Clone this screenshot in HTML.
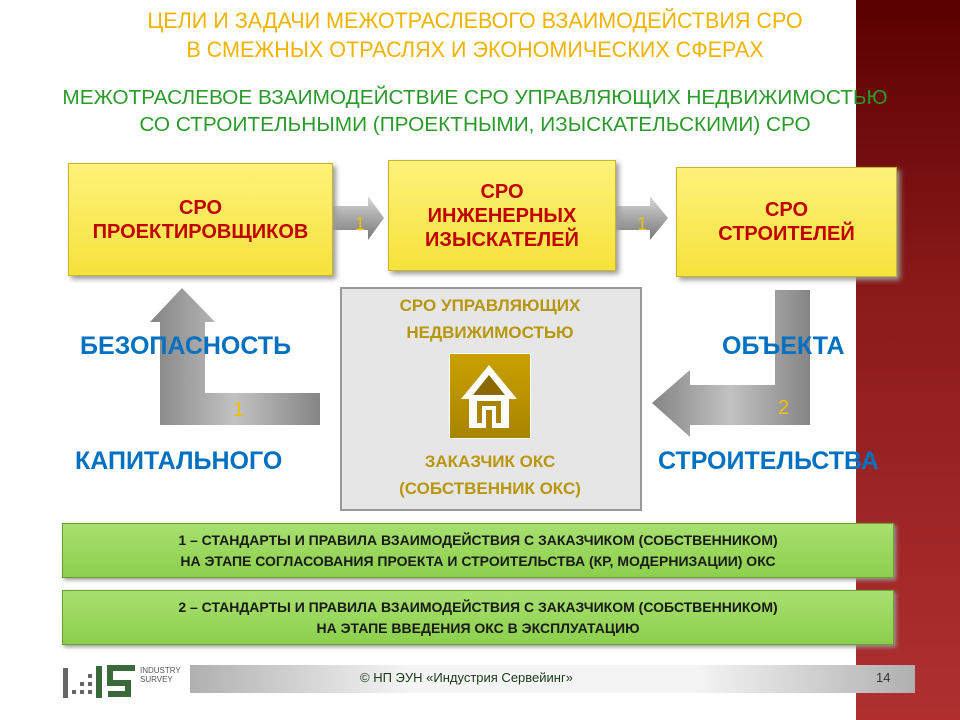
<!DOCTYPE html>
<html><head><meta charset="utf-8"><style>
body{margin:0;width:960px;height:720px;position:relative;overflow:hidden;background:#fff;font-family:"Liberation Sans",sans-serif}
.a{position:absolute}
.t{text-align:center}
.yb{position:absolute;background:linear-gradient(#fdf27a,#f6e23c);border:1px solid #c9b52a;box-shadow:3px 3px 5px #999;display:flex;align-items:center;justify-content:center;text-align:center;color:#c00000;font-weight:bold;font-size:20px;line-height:24px}
.gb{position:absolute;background:linear-gradient(#a8e070,#8ccf4c);border:1px solid #6aa030;box-shadow:2px 2px 4px #999;text-align:center;font-weight:bold;font-size:14px;line-height:21px;color:#1a1a1a}
.bl{position:absolute;color:#0070c0;font-weight:bold;font-size:25px}
</style></head><body>
<div class="a" style="left:856px;top:0;width:104px;height:720px;background:linear-gradient(#5a0000,#8a1a1a 40%,#b03030)"></div>
<div class="a t" style="left:0px;top:6px;width:950px;color:#f0b400;font-size:22px;line-height:29px;transform:scaleX(0.98);transform-origin:475px 0">ЦЕЛИ И ЗАДАЧИ МЕЖОТРАСЛЕВОГО ВЗАИМОДЕЙСТВИЯ СРО<br>В СМЕЖНЫХ ОТРАСЛЯХ И ЭКОНОМИЧЕСКИХ СФЕРАХ</div>
<div class="a t" style="left:0px;top:85px;width:950px;color:#2a9a2a;font-size:20px;line-height:27px;transform:scaleX(1.04);transform-origin:475px 0">МЕЖОТРАСЛЕВОЕ ВЗАИМОДЕЙСТВИЕ СРО УПРАВЛЯЮЩИХ НЕДВИЖИМОСТЬЮ<br>СО СТРОИТЕЛЬНЫМИ (ПРОЕКТНЫМИ, ИЗЫСКАТЕЛЬСКИМИ) СРО</div>

<svg class="a" style="left:0;top:0" width="960" height="720">
<defs><linearGradient id="g" x1="0" y1="0" x2="0" y2="1"><stop offset="0" stop-color="#d8d8d8"/><stop offset="1" stop-color="#777"/></linearGradient>
<linearGradient id="gh" x1="0" y1="0" x2="1" y2="0"><stop offset="0" stop-color="#777"/><stop offset=".5" stop-color="#bbb"/><stop offset="1" stop-color="#777"/></linearGradient></defs>
<polygon points="332,206 368,206 368,196 384,218 368,240 368,230 332,230" fill="url(#g)"/>
<polygon points="614,206 650,206 650,196 668,218 650,240 650,230 614,230" fill="url(#g)"/>
<polygon points="182,288 215,322 205,322 205,393 320,393 320,425 160,425 160,322 150,322" fill="url(#gh)" opacity=".9"/>
<polygon points="775,290 810,290 810,425 690,425 690,437 652,403 690,370 690,385 775,385" fill="url(#gh)" opacity=".9"/>
<text x="355" y="230" fill="#f0c000" font-size="18" font-family="Liberation Sans">1</text>
<text x="637" y="230" fill="#f0c000" font-size="18" font-family="Liberation Sans">1</text>
<text x="233" y="416" fill="#f0c000" font-size="20" font-family="Liberation Sans">1</text>
<text x="778" y="414" fill="#f0c000" font-size="20" font-family="Liberation Sans">2</text>
</svg>

<div class="yb" style="left:68px;top:163px;width:263px;height:111px">СРО<br>ПРОЕКТИРОВЩИКОВ</div>
<div class="yb" style="left:388px;top:160px;width:226px;height:109px">СРО<br>ИНЖЕНЕРНЫХ<br>ИЗЫСКАТЕЛЕЙ</div>
<div class="yb" style="left:676px;top:167px;width:219px;height:108px">СРО<br>СТРОИТЕЛЕЙ</div>

<div class="a" style="left:340px;top:287px;width:298px;height:220px;background:#e6e6e6;border:2px solid #999"></div>
<div class="a t" style="left:340px;top:292px;width:300px;color:#b8960a;font-weight:bold;font-size:17px;line-height:27px">СРО УПРАВЛЯЮЩИХ<br>НЕДВИЖИМОСТЬЮ</div>
<div class="a" style="left:449px;top:353px;width:80px;height:84px;background:linear-gradient(#c9a000,#a88400);border:1px solid #fff"></div>
<svg class="a" style="left:449px;top:353px" width="80" height="84"><polygon points="40,12 68,46 60,46 60,75 20,75 20,46 12,46" fill="#fff"/><polygon points="40,22 56,42 24,42" fill="#8a6a00"/><rect x="28" y="48" width="24" height="22" fill="#a88400"/><rect x="33" y="53" width="14" height="22" fill="#fff"/><rect x="37" y="57" width="6" height="18" fill="#a88400"/></svg>
<div class="a t" style="left:340px;top:448px;width:300px;color:#b8960a;font-weight:bold;font-size:17px;line-height:27px">ЗАКАЗЧИК ОКС<br>(СОБСТВЕННИК ОКС)</div>

<div class="bl" style="left:80px;top:332px">БЕЗОПАСНОСТЬ</div>
<div class="bl" style="left:75px;top:447px">КАПИТАЛЬНОГО</div>
<div class="bl" style="left:722px;top:332px">ОБЪЕКТА</div>
<div class="bl" style="left:658px;top:447px">СТРОИТЕЛЬСТВА</div>

<div class="gb" style="left:62px;top:523px;width:832px;height:55px;padding-top:6px;box-sizing:border-box">1 – СТАНДАРТЫ И ПРАВИЛА ВЗАИМОДЕЙСТВИЯ С ЗАКАЗЧИКОМ (СОБСТВЕННИКОМ)<br>НА ЭТАПЕ СОГЛАСОВАНИЯ ПРОЕКТА И СТРОИТЕЛЬСТВА (КР, МОДЕРНИЗАЦИИ) ОКС</div>
<div class="gb" style="left:62px;top:590px;width:832px;height:55px;padding-top:6px;box-sizing:border-box">2 – СТАНДАРТЫ И ПРАВИЛА ВЗАИМОДЕЙСТВИЯ С ЗАКАЗЧИКОМ (СОБСТВЕННИКОМ)<br>НА ЭТАПЕ ВВЕДЕНИЯ ОКС В ЭКСПЛУАТАЦИЮ</div>

<div class="a" style="left:190px;top:665px;width:725px;height:28px;background:linear-gradient(90deg,#b0b0b0,#f4f4f4 30%,#f4f4f4 70%,#b0b0b0)"></div>
<div class="a" style="left:360px;top:670px;font-size:13px;color:#1a3a1a">© НП ЭУН «Индустрия Сервейинг»</div>
<div class="a" style="left:876px;top:670px;font-size:13px;color:#333">14</div>
<svg class="a" style="left:60px;top:660px" width="140" height="42">
<rect x="3" y="8" width="5" height="30" fill="#666"/>
<rect x="12" y="30" width="4" height="4" fill="#666"/><rect x="20" y="22" width="4" height="4" fill="#666"/><rect x="20" y="30" width="4" height="4" fill="#666"/><rect x="28" y="14" width="4" height="4" fill="#666"/><rect x="28" y="22" width="4" height="4" fill="#666"/><rect x="28" y="30" width="4" height="4" fill="#666"/>
<rect x="36" y="6" width="6" height="32" fill="#3a6a3a"/>
<path d="M75 8 H50 V23 H68 V34 H48" stroke="#3a6a3a" stroke-width="6" fill="none"/>
<text x="80" y="13" font-size="8" fill="#555" font-family="Liberation Sans">INDUSTRY</text>
<text x="80" y="22" font-size="8" fill="#555" font-family="Liberation Sans">SURVEY</text>
</svg>
</body></html>
